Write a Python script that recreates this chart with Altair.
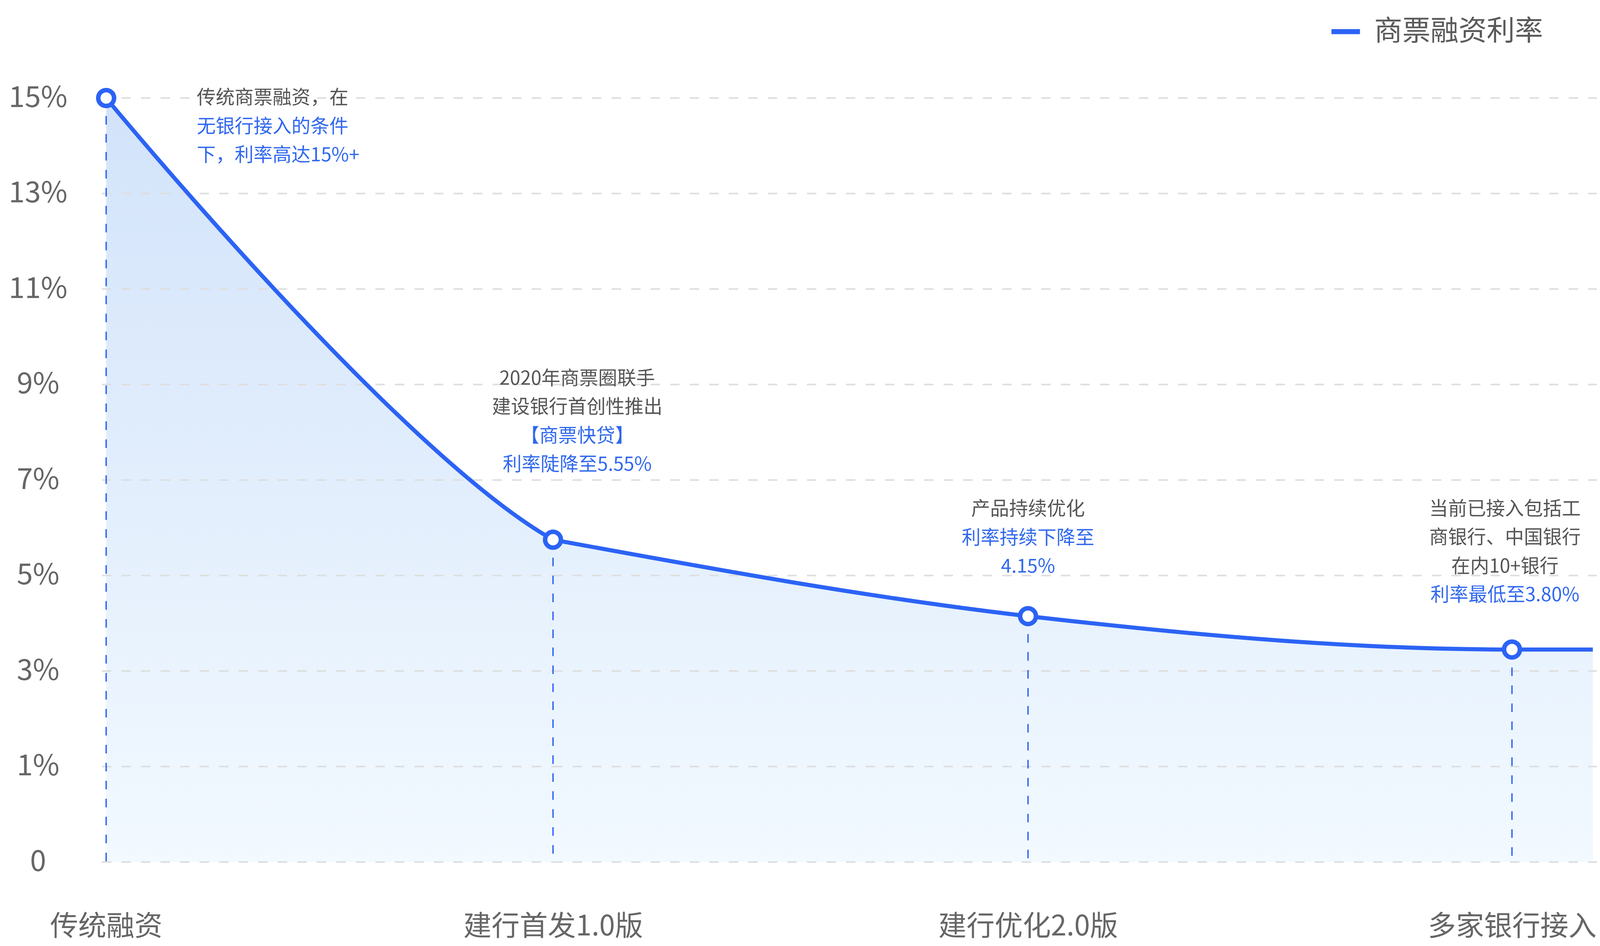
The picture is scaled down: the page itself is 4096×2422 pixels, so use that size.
import altair as alt
import pandas as pd

# ---------------- data ----------------
stages = ["传统融资", "建行首发1.0版", "建行优化2.0版", "多家银行接入"]
stage_pos = [0.0, 1.0, 2.063, 3.146]      # position of each stage along the x axis
rates = [15.0, 5.75, 4.15, 3.45]           # plotted rate (%) at each stage
tail_pos = 3.327                           # line continues a little past the last stage
tail_rate = 3.45
series_name = "商票融资利率"
y_ticks = [0, 1, 3, 5, 7, 9, 11, 13, 15]
y_tick_labels = ["0", "1%", "3%", "5%", "7%", "9%", "11%", "13%", "15%"]

note_lines = [
    [("传统商票融资，在", "gray"), ("无银行接入的条件", "blue"), ("下，利率高达15%+", "blue")],
    [("2020年商票圈联手", "gray"), ("建设银行首创性推出", "gray"), ("【商票快贷】", "blue"), ("利率陡降至5.55%", "blue")],
    [("产品持续优化", "gray"), ("利率持续下降至", "blue"), ("4.15%", "blue")],
    [("当前已接入包括工", "gray"), ("商银行、中国银行", "gray"), ("在内10+银行", "gray"), ("利率最低至3.80%", "blue")],
]

# ---------------- style / layout ----------------
W, H = 3827, 1956
STEP = H / 8.0
FONT = "Noto Sans CJK SC"
BLUE = "#2c63f5"
TEXT_BLUE = "#3068ee"
TEXT_GRAY = "#555555"
AXIS_GRAY = "#666666"
GRID = "#dedede"
TOP_FILL = (210, 227, 250)
BOTTOM_FILL = (242, 249, 255)
x_domain = [-0.0094, 3.336]
note_dx = [232, 62, 0, -18]
note_dy0 = [0, -412, -273, -359]
note_align = ["left", "center", "center", "center"]
LINE_H = 73.5


def hexcol(c):
    return "#%02x%02x%02x" % tuple(int(round(v)) for v in c)


def y_frac(v):
    # fraction of the plot height (from top) for a value on the piecewise y scale
    steps = v if v <= 1 else 1 + (v - 1) / 2.0
    return 1 - steps / 8.0


# first drop (stage 1 -> 2) and the gentle tail (stage 2 -> end) are two smooth pieces
seg_a = pd.DataFrame({"pos": stage_pos[:3], "rate": rates[:3]})
seg_b = pd.DataFrame({
    "pos": stage_pos[1:] + [tail_pos],
    "rate": rates[1:] + [tail_rate],
    "series": [series_name] * len(rates),
})
pts_df = pd.DataFrame({"pos": stage_pos, "rate": rates, "stage": stages})
grid_df = pd.DataFrame({"rate": y_ticks})

mids = [(stage_pos[i] + stage_pos[i + 1]) / 2 for i in range(len(stage_pos) - 1)]
expr = "'%s'" % stages[-1]
for i in range(len(mids) - 1, -1, -1):
    expr = "datum.value < %f ? '%s' : (%s)" % (mids[i], stages[i], expr)
x_label_expr = expr

y_expr = "'%s'" % y_tick_labels[-1]
for i in range(len(y_ticks) - 2, -1, -1):
    y_expr = "datum.value < %f ? '%s' : (%s)" % ((y_ticks[i] + y_ticks[i + 1]) / 2, y_tick_labels[i], y_expr)

x_enc = alt.X(
    "pos:Q",
    scale=alt.Scale(domain=x_domain, nice=False, zero=False),
    axis=alt.Axis(
        values=stage_pos, labelExpr=x_label_expr, title=None, grid=False,
        domain=False, ticks=False, tickSize=0, labelPadding=165,
        labelBaseline="middle", labelAlign="center", labelFlush=False,
        labelOverlap=False, labelLimit=2000, labelFontSize=72,
        labelColor=AXIS_GRAY, labelFont=FONT,
    ),
)
y_scale = alt.Scale(domain=[0, 1, 15], range=[H, H - STEP, 0], nice=False, zero=False)
y_enc = alt.Y(
    "rate:Q",
    scale=y_scale,
    axis=alt.Axis(
        values=y_ticks, labelExpr=y_expr, title=None, grid=False,
        domain=False, ticks=False, tickSize=0, labelPadding=164,
        labelAlign="center", labelBaseline="middle", labelFontSize=74,
        labelColor=AXIS_GRAY, labelFont=FONT, labelOverlap=False, labelLimit=2000,
    ),
)

# gradient of the second area continues the first one from its own top
f = y_frac(rates[1])
mid_col = tuple(TOP_FILL[k] + (BOTTOM_FILL[k] - TOP_FILL[k]) * f for k in range(3))


def grad(top):
    return alt.Gradient(
        gradient="linear",
        stops=[alt.GradientStop(color=hexcol(top), offset=0),
               alt.GradientStop(color=hexcol(BOTTOM_FILL), offset=1)],
        x1=0, x2=0, y1=0, y2=1,
    )


area_a = alt.Chart(seg_a).mark_area(
    interpolate="cardinal", tension=0, color=grad(TOP_FILL)
).encode(x=x_enc, y=y_enc, y2=alt.datum(0))

grid_a = alt.Chart(grid_df).mark_rule(
    color=GRID, strokeWidth=4, strokeDash=[24, 26]
).encode(y="rate:Q", x=alt.datum(x_domain[0]), x2=alt.datum(stage_pos[1]))

line_a = alt.Chart(seg_a).mark_line(
    interpolate="cardinal", tension=0, color=BLUE, strokeWidth=10.5
).encode(x="pos:Q", y="rate:Q")

area_b = alt.Chart(seg_b).mark_area(
    interpolate="monotone", color=grad(mid_col)
).encode(x="pos:Q", y="rate:Q", y2=alt.datum(0))

grid_b = alt.Chart(grid_df).mark_rule(
    color=GRID, strokeWidth=4, strokeDash=[24, 26]
).encode(y="rate:Q", x=alt.datum(stage_pos[1]), x2=alt.datum(x_domain[1]))

rules = alt.Chart(pts_df).mark_rule(
    color=BLUE, strokeWidth=3.5, strokeDash=[22, 24]
).encode(x="pos:Q", y="rate:Q", y2=alt.datum(0))

line_b = alt.Chart(seg_b).mark_line(
    interpolate="monotone", strokeWidth=10.5
).encode(
    x="pos:Q", y="rate:Q",
    color=alt.Color(
        "series:N",
        scale=alt.Scale(domain=[series_name], range=[BLUE]),
        legend=alt.Legend(
            title=None, orient="none", legendX=3141, legendY=-213,
            symbolType="stroke", symbolSize=5329, symbolStrokeWidth=13,
            labelFontSize=72, labelFont=FONT, labelColor="#5a5a5a",
            labelOffset=30, padding=0, labelLimit=1000,
        ),
    ),
)

points = alt.Chart(pts_df).mark_point(
    shape="circle", filled=True, fill="white", stroke=BLUE,
    strokeWidth=11.5, size=1640, opacity=1,
).encode(x="pos:Q", y="rate:Q")

texts = []
for i, lines in enumerate(note_lines):
    for j, (txt, kind) in enumerate(lines):
        d = pd.DataFrame({"pos": [stage_pos[i]], "rate": [rates[i]], "txt": [txt]})
        texts.append(
            alt.Chart(d).mark_text(
                align=note_align[i], baseline="middle", font=FONT, fontSize=48.5,
                dx=note_dx[i], dy=note_dy0[i] + j * LINE_H,
                color=TEXT_GRAY if kind == "gray" else TEXT_BLUE,
            ).encode(x="pos:Q", y="rate:Q", text="txt:N")
        )

chart = alt.layer(area_a, grid_a, line_a, area_b, grid_b, rules, line_b, points, *texts).properties(
    width=W, height=H,
    padding={"left": 253, "top": 243, "right": 0, "bottom": 207},
    autosize=alt.AutoSizeParams(type="none"),
    background="white",
).configure_view(stroke=None)

chart.save("out.html", embed_options={"renderer": "svg", "actions": False})
